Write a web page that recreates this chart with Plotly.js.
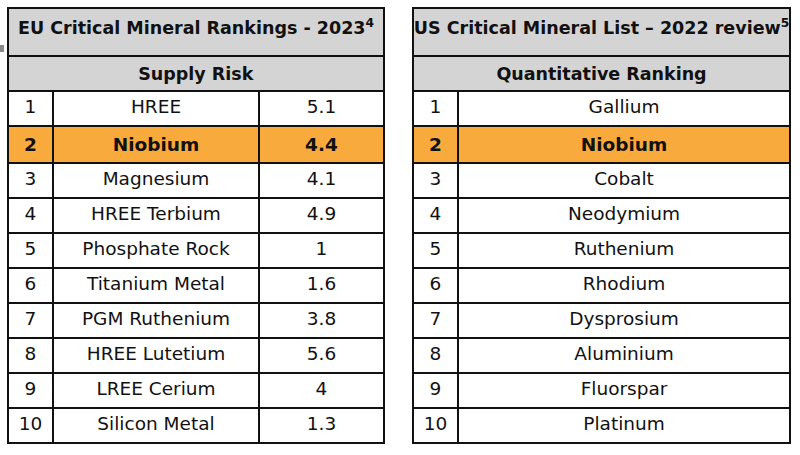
<!DOCTYPE html>
<html>
<head>
<meta charset="utf-8">
<script src="https://cdn.plot.ly/plotly-3.0.1.min.js"></script>
<style>html,body{margin:0;padding:0;background:#fff;}#chart{width:800px;height:455px;}</style>
</head>
<body>
<div id="chart"></div>
<script>
// ---- Data ----
const euTitle = "EU Critical Mineral Rankings - 2023<sup>4</sup>";
const euSubtitle = "Supply Risk";
const euRanks = ["1","2","3","4","5","6","7","8","9","10"];
const euMinerals = ["HREE","Niobium","Magnesium","HREE Terbium","Phosphate Rock","Titanium Metal","PGM Ruthenium","HREE Lutetium","LREE Cerium","Silicon Metal"];
const euSupplyRisk = ["5.1","4.4","4.1","4.9","1","1.6","3.8","5.6","4","1.3"];

const usTitle = "US Critical Mineral List \u2013 2022 review<sup>5</sup>";
const usSubtitle = "Quantitative Ranking";
const usRanks = ["1","2","3","4","5","6","7","8","9","10"];
const usMinerals = ["Gallium","Niobium","Cobalt","Neodymium","Ruthenium","Rhodium","Dysprosium","Aluminium","Fluorspar","Platinum"];

const highlightIndex = 1;

// ---- Styling ----
const W = 800, H = 455;
const FONT = "DejaVu Sans";
const GRAY = "#d4d4d4", ORANGE = "#f9aa3c", WHITE = "#ffffff", LINE = "#111111";
const top0 = 8, titleH = 48, subH = 35, rowH = 35, hdrH = 1;

const nb = s => s.split(" ").join("\u00a0");
function bold(arr){ return arr.map((v,i)=> i===highlightIndex ? "<b>"+nb(v)+"</b>" : nb(v)); }
const rowFill = euRanks.map((_,i)=> i===highlightIndex ? ORANGE : WHITE);

function yDom(t, h){ return [1 - (t + h)/H, 1 - t/H]; }

function headTable(title, sub, x0, x1){
  return {
    type: "table",
    domain: {x: [x0/W, x1/W], y: yDom(top0, titleH + subH)},
    columnwidth: [1],
    header: {values: ["<b>"+nb(title)+"</b>"], height: titleH, fill: {color: GRAY}, line: {color: LINE, width: 2.5},
             align: "center", font: {family: FONT, size: 17.5, color: "#111"}},
    cells: {values: [["<b>"+nb(sub)+"</b>"]], height: subH, fill: {color: GRAY}, line: {color: LINE, width: 2.5},
            align: "center", font: {family: FONT, size: 17.5, color: "#111"}}
  };
}
function bodyTable(cols, widths, x0, x1){
  return {
    type: "table",
    domain: {x: [x0/W, x1/W], y: yDom(top0 + titleH + subH - hdrH, rowH*10 + hdrH + 10)},
    columnwidth: widths,
    header: {values: cols.map(()=>""), height: hdrH, fill: {color: WHITE}, line: {color: LINE, width: 2.5}},
    cells: {values: cols.map(bold), height: rowH,
            fill: {color: cols.map(()=>rowFill)},
            line: {color: LINE, width: 2.5}, align: "center",
            font: {family: FONT, size: 18.5, color: "#111"}}
  };
}

const data = [
  bodyTable([euRanks, euMinerals, euSupplyRisk], [45, 206, 125], 8, 384),
  bodyTable([usRanks, usMinerals], [45, 332], 413, 790),
  headTable(euTitle, euSubtitle, 8, 384),
  headTable(usTitle, usSubtitle, 413, 790)
];

const layout = {
  width: W, height: H,
  margin: {l: 0, r: 0, t: 0, b: 0},
  paper_bgcolor: "#fff",
  showlegend: false,
  shapes: [{type: "rect", xref: "paper", yref: "paper", x0: 0, x1: 4/W, y0: 1-52/H, y1: 1-45/H,
            fillcolor: "#8a8a8a", line: {width: 0}}]
};
Plotly.newPlot("chart", data, layout, {displayModeBar: false, staticPlot: true});
</script>
</body>
</html>
